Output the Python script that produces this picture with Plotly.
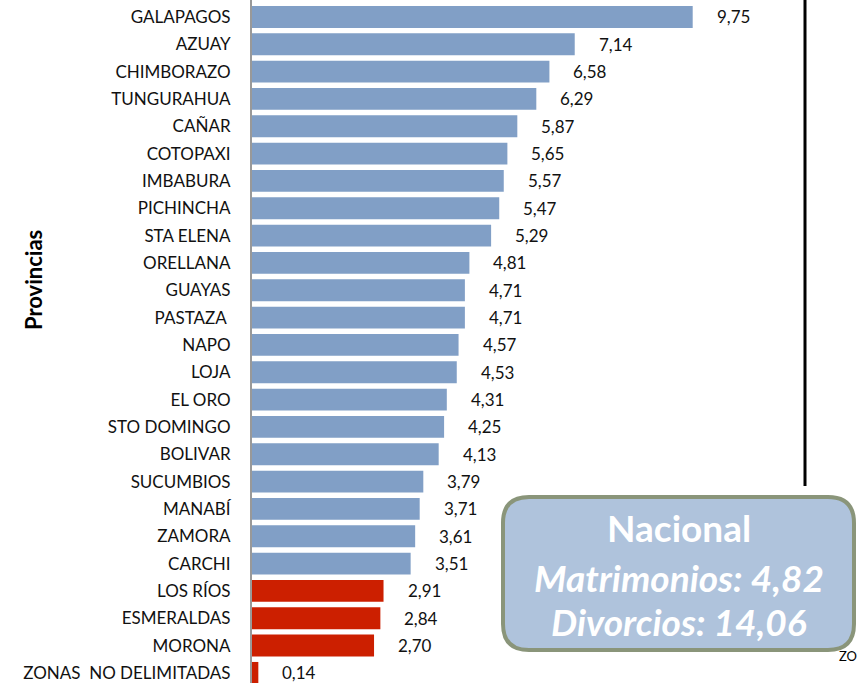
import plotly.graph_objects as go

provincias = ["GALAPAGOS", "AZUAY", "CHIMBORAZO", "TUNGURAHUA", "CAÑAR", "COTOPAXI",
              "IMBABURA", "PICHINCHA", "STA ELENA", "ORELLANA", "GUAYAS", "PASTAZA ",
              "NAPO", "LOJA", "EL ORO", "STO DOMINGO", "BOLIVAR", "SUCUMBIOS", "MANABÍ",
              "ZAMORA", "CARCHI", "LOS RÍOS", "ESMERALDAS", "MORONA", "ZONAS  NO DELIMITADAS"]
tasas = [9.75, 7.14, 6.58, 6.29, 5.87, 5.65, 5.57, 5.47, 5.29, 4.81, 4.71, 4.71,
         4.57, 4.53, 4.31, 4.25, 4.13, 3.79, 3.71, 3.61, 3.51, 2.91, 2.84, 2.70, 0.14]
nacional_matrimonios = 4.82
nacional_divorcios = 14.06

W, H = 857, 683
L = 252
BLUE = "#819FC6"
RED = "#CC1F00"
FONT = "Lato, Carlito, 'Open Sans', sans-serif"

colors = [RED if v < 3 else BLUE for v in tasas]

fig = go.Figure(go.Bar(
    x=tasas, y=provincias, orientation="h",
    marker=dict(color=colors, line=dict(width=0)),
    hoverinfo="skip",
))

def fmt(v):
    return f"{v:.2f}".replace(".", ",")

for p, v in zip(provincias, tasas):
    fig.add_annotation(x=v, y=p, xref="x", yref="y", text=fmt(v), showarrow=False,
                       xanchor="left", xshift=22, font=dict(size=17, color="#111", family=FONT))

def px2paper(px, py):
    return (px - L) / (W - L), 1 - py / H

# rounded box
x0, y0, x1, y1, r = 503, 497, 854, 650, 26
def P(px, py):
    a, b = px2paper(px, py)
    return f"{a:.5f},{b:.5f}"
path = (f"M {P(x0+r, y0)} L {P(x1-r, y0)} Q {P(x1, y0)} {P(x1, y0+r)} "
        f"L {P(x1, y1-r)} Q {P(x1, y1)} {P(x1-r, y1)} L {P(x0+r, y1)} "
        f"Q {P(x0, y1)} {P(x0, y1-r)} L {P(x0, y0+r)} Q {P(x0, y0)} {P(x0+r, y0)} Z")
fig.add_shape(type="path", xref="paper", yref="paper", path=path,
              fillcolor="#AFC3DC", line=dict(color="#8A957A", width=4), layer="above")

cx, _ = px2paper((x0 + x1) / 2, 0)
box_lines = [("<b>Nacional</b>", 527, 37),
             (f"<b><i>Matrimonios: {fmt(nacional_matrimonios)}</i></b>", 577, 37),
             (f"<b><i>Divorcios: {fmt(nacional_divorcios)}</i></b>", 621, 37)]
for txt, py, sz in box_lines:
    fig.add_annotation(x=cx, y=1 - py / H, xref="paper", yref="paper", text=txt,
                       showarrow=False, xanchor="center", yanchor="middle",
                       font=dict(size=sz, color="white", family=FONT))

# vertical black divider line from slide
a, _ = px2paper(805, 0)
fig.add_shape(type="line", xref="paper", yref="paper", x0=a, x1=a, y0=1, y1=1 - 486 / H,
              line=dict(color="black", width=3))

# axis title
ax, _ = px2paper(33, 0)
fig.add_annotation(x=ax, y=1 - 280 / H, xref="paper", yref="paper", text="<b>Provincias</b>",
                   textangle=-90, showarrow=False, xanchor="center", yanchor="middle",
                   font=dict(size=22, color="black", family=FONT))

# cropped fragment at bottom right
zx, _ = px2paper(837, 0)
fig.add_annotation(x=zx, y=1 - 666 / H, xref="paper", yref="paper", text="ZO",
                   showarrow=False, xanchor="left", font=dict(size=13, color="black", family=FONT))

fig.update_layout(
    width=W, height=H,
    margin=dict(l=L, r=0, t=0, b=0),
    paper_bgcolor="white", plot_bgcolor="white",
    bargap=0.2, showlegend=False,
    xaxis=dict(range=[0, (W - L) / 45.2], visible=False, fixedrange=True),
    yaxis=dict(type="category", range=[24.37, -0.62], showline=True, linecolor="#999",
               linewidth=2, ticks="", ticklabelstandoff=16, showgrid=False, fixedrange=True,
               tickfont=dict(size=17, color="#111", family=FONT)),
)

fig.write_html("out.html", config={"displayModeBar": False, "staticPlot": True},
               post_script="document.body.style.margin='0';document.body.style.overflow='hidden';")
